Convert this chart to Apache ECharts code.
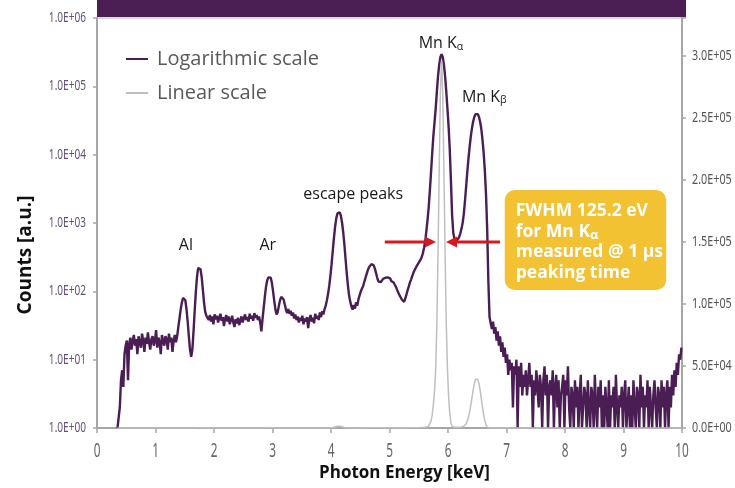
<!DOCTYPE html>
<html><head><meta charset="utf-8">
<script src="https://cdn.jsdelivr.net/npm/echarts/dist/echarts.min.js"></script>
<style>html,body{margin:0;padding:0;background:#fff}#c{width:735px;height:488px}</style>
</head><body><div id="c"></div>
<script>
// spectrum channels: energy of channel i = energyStart + i*energyStep (keV)
const energyStart = 0.35;
const energyStep = 0.02;
const counts = [
  1,1,2,5,7,4,12,16,19,5,
  17,21,14,19,23,16,20,12,22,18,
  15,24,19,13,21,17,25,18,14,20,
  22,16,19,27,15,21,18,12,23,19,
  16,22,20,14,24,18,21,13,19,23,
  18,22,30,40,54,68,80,85,74,55,
  36,22,14,11,14,26,52,100,165,220,
  235,210,160,105,68,50,44,47,38,45,
  36,43,33,46,39,44,35,41,47,37,
  42,31,40,45,36,43,33,38,44,35,
  30,39,34,41,32,37,43,35,40,46,
  38,42,36,47,40,44,37,48,41,45,
  38,43,35,26,40,58,85,118,145,160,
  165,158,132,100,72,54,46,50,62,75,
  83,84,76,64,54,48,55,47,52,44,
  49,40,46,38,43,35,41,37,44,33,
  40,36,42,29,39,45,36,41,34,47,
  40,44,38,49,42,51,46,55,62,74,
  92,120,170,250,390,600,880,1170,1380,1460,
  1430,1260,1000,720,470,290,180,120,86,70,
  60,54,63,56,69,62,77,88,100,110,
  120,138,158,180,205,225,240,250,252,240,
  215,185,158,140,132,136,145,152,148,158,
  152,160,150,155,142,148,135,125,116,105,
  96,88,82,76,72,70,78,90,104,118,
  135,150,168,188,205,222,238,255,272,290,
  315,360,430,540,760,1100,1700,3000,5500,10500,
  19000,30000,48000,85000,142000,208000,270000,296000,270000,208000,
  142000,85000,48000,26000,12000,4200,1300,720,590,555,
  555,575,620,700,820,1000,1350,2100,3400,5600,
  8800,13000,18500,24500,30500,35500,39200,40700,39200,35500,
  30000,23500,16500,10500,5800,2600,800,140,42,34,
  28,36,24,30,19,26,16,22,13,18,
  11,15,9,12,6,10,7,9,2,8,
  6,10,1,8,4,9,3,6,4,7,
  3,5,9,4,6,1,5,3,7,4,
  2,6,4,1,5,8,3,6,1,4,
  5,3,7,1,4,6,2,5,1,3,
  4,6,1,5,3,8,2,1,4,3,
  1,5,2,4,1,3,6,1,2,4,
  3,1,5,2,1,4,3,1,6,2,
  1,4,2,5,1,3,1,4,2,1,
  5,1,3,2,4,1,6,2,1,3,
  2,4,1,3,5,1,2,4,1,3,
  1,5,2,1,4,3,1,6,2,4,
  1,3,2,5,1,4,2,1,3,5,
  2,1,4,3,1,5,2,4,1,3,
  5,1,4,2,6,3,7,4,9,6,
  12,10,15
];
const seriesNames = ['Logarithmic scale', 'Linear scale'];
const xRange = [0, 10];
const logRange = [1, 1e6];
const linRange = [0, 330000];
const linInterval = 50000;
// tick labels
const xTicks = [0, 1, 2, 3, 4, 5, 6, 7, 8, 9, 10];
const logTicks = [1, 10, 100, 1000, 10000, 100000, 1000000];
const linTicks = [0, 50000, 100000, 150000, 200000, 250000, 300000];
// peak annotations: [label, energy keV, counts] (positions in data space of log axis)
const peakLabels = [
  ['{t|Al}', 1.52, 475],
  ['{t|Ar}', 2.92, 475],
  ['{t|escape peaks}', 4.38, 2650],
  ['{t|Mn K}{s|α}', 5.88, 420000],
  ['{t|Mn K}{s|β}', 6.62, 69500]
];
// FWHM arrows (energy from -> to, at counts level)
const fwhmArrows = [[4.92, 5.795, 525], [6.89, 5.966, 525]];
const noteBox = { e0: 6.97, e1: 9.73, c0: 3040, c1: 105 };
const noteLines = '{b|FWHM 125.2 eV}\n{b|for Mn K}{s|α}\n{b|measured @ 1 µs}\n{b|peaking time}';
const xTitle = 'Photon Energy [keV]';
const yTitle = 'Counts [a.u.]';

const PURPLE = '#4a1d54';
const GRAY = '#bfbfbf';
const AXIS = '#a6a6a6';
const SANS = '"Open Sans","Noto Sans",sans-serif';
const TICKFONT = '"Noto Sans","Roboto",sans-serif';

const spectrum = counts.map((c, i) => [+(energyStart + i * energyStep).toFixed(2), c]);

function sci(v) {
  const s = Number(v).toExponential(1).toUpperCase();
  return s.replace(/E([+-])(\d)$/, 'E$10$2');
}

const chart = echarts.init(document.getElementById('c'), null, { renderer: 'canvas' });
chart.setOption({
  animation: false,
  backgroundColor: '#fff',
  grid: { left: 97, right: 53, top: 18, bottom: 60, show: true, borderColor: '#b5b5b5', borderWidth: 1,
          containLabel: false, outerBoundsMode: 'none' },
  legend: {
    orient: 'vertical', left: 121, top: 44, itemGap: 14,
    icon: 'rect', itemWidth: 22, itemHeight: 2,
    textStyle: { fontFamily: SANS, fontSize: 20, color: '#595959', padding: [0, 0, 0, 4] },
    data: seriesNames
  },
  xAxis: {
    type: 'value', min: xRange[0], max: xRange[1], interval: 1,
    axisLine: { lineStyle: { color: AXIS, width: 2 } },
    axisTick: { show: true, length: 5, lineStyle: { color: AXIS, width: 1.5 } },
    axisLabel: { show: false },
    splitLine: { show: false }
  },
  yAxis: [{
    type: 'log', logBase: 10, min: logRange[0], max: logRange[1], position: 'left',
    axisLine: { show: true, lineStyle: { color: AXIS, width: 2 } },
    axisTick: { show: true, length: 4, lineStyle: { color: AXIS, width: 1.5 } },
    axisLabel: { show: false },
    splitLine: { show: false }
  }, {
    type: 'value', min: linRange[0], max: linRange[1], interval: linInterval, position: 'right',
    axisLine: { show: true, lineStyle: { color: AXIS, width: 2 } },
    axisTick: { show: true, length: 4, lineStyle: { color: AXIS, width: 1.5 } },
    axisLabel: { show: false },
    splitLine: { show: false }
  }],
  series: [{
    name: seriesNames[0], type: 'line', yAxisIndex: 0, data: spectrum,
    symbol: 'none', showSymbol: false, color: PURPLE,
    lineStyle: { color: PURPLE, width: 2.4 }, z: 2
  }, {
    name: seriesNames[1], type: 'line', yAxisIndex: 1, data: spectrum,
    symbol: 'none', showSymbol: false, color: GRAY,
    lineStyle: { color: GRAY, width: 1.5 }, z: 3
  }]
});

function px(e, c) { return chart.convertToPixel({ xAxisIndex: 0, yAxisIndex: 0 }, [e, c]); }
function pxLin(e, c) { return chart.convertToPixel({ xAxisIndex: 0, yAxisIndex: 1 }, [e, c]); }

const g = [];
const pL = px(xRange[0], logRange[1]);
const pR = px(xRange[1], logRange[1]);
const pB = px(xRange[0], logRange[0]);
// title banner above plot
g.push({ type: 'rect', shape: { x: pL[0], y: 0, width: pR[0] - pL[0] + 4, height: pL[1] - 1 }, style: { fill: '#4b1f53' }, z: 10 });

// tick labels (condensed look via horizontal scale)
logTicks.forEach(v => {
  const p = px(xRange[0], v);
  g.push({ type: 'text', x: p[0] - 11, y: p[1], scaleX: 0.72, z: 20,
    style: { text: sci(v), align: 'right', verticalAlign: 'middle', fontFamily: TICKFONT, fontSize: 14, fill: '#64507a' } });
});
linTicks.forEach(v => {
  const p = pxLin(xRange[1], v);
  g.push({ type: 'text', x: p[0] + 10, y: p[1], scaleX: 0.72, z: 20,
    style: { text: sci(v), align: 'left', verticalAlign: 'middle', fontFamily: TICKFONT, fontSize: 15, fill: '#555555' } });
});
xTicks.forEach(v => {
  const p = px(v, logRange[0]);
  g.push({ type: 'text', x: p[0], y: p[1] + 24, scaleX: 0.62, z: 20,
    style: { text: String(v), align: 'center', verticalAlign: 'middle', fontFamily: TICKFONT, fontSize: 19, fill: '#666666' } });
});

// axis titles
g.push({ type: 'text', x: (pL[0] + pR[0]) / 2 + 15, y: pB[1] + 45, z: 20,
  style: { text: xTitle, align: 'center', verticalAlign: 'middle', fontFamily: SANS, fontSize: 17, fontWeight: 'bold', fill: '#111' } });
g.push({ type: 'text', x: 26, y: (pL[1] + pB[1]) / 2 + 32, rotation: Math.PI / 2, z: 20,
  style: { text: yTitle, align: 'center', verticalAlign: 'middle', fontFamily: SANS, fontSize: 19, fontWeight: 'bold', fill: '#111' } });

peakLabels.forEach(([t, e, c]) => {
  const p = px(e, c);
  g.push({
    type: 'text', x: p[0], y: p[1], z: 20,
    style: {
      text: t, align: 'center', verticalAlign: 'middle',
      rich: {
        t: { fontFamily: SANS, fontSize: 16, fill: '#1a1a1a' },
        s: { fontFamily: SANS, fontSize: 10.5, fill: '#1a1a1a', verticalAlign: 'bottom', padding: [6, 0, 0, 0] }
      }
    }
  });
});

const RED = '#d7191f';
fwhmArrows.forEach(([e0, e1, c]) => {
  const a = px(e0, c), b = px(e1, c);
  const dir = b[0] > a[0] ? 1 : -1;
  const head = 11;
  g.push({ type: 'line', z: 20, shape: { x1: a[0], y1: a[1], x2: b[0] - dir * head, y2: b[1] }, style: { stroke: RED, lineWidth: 3 } });
  g.push({ type: 'polygon', z: 20, shape: { points: [[b[0], b[1]], [b[0] - dir * head, b[1] - 5.5], [b[0] - dir * head, b[1] + 5.5]] }, style: { fill: RED } });
});

const b0 = px(noteBox.e0, noteBox.c0), b1 = px(noteBox.e1, noteBox.c1);
g.push({ type: 'rect', z: 20, shape: { x: b0[0], y: b0[1], width: b1[0] - b0[0], height: b1[1] - b0[1], r: 10 }, style: { fill: '#f2c232' } });
g.push({
  type: 'text', z: 21, x: b0[0] + 11, y: b0[1] + 11,
  style: {
    text: noteLines, align: 'left', verticalAlign: 'top',
    rich: {
      b: { fontFamily: SANS, fontSize: 17.5, fontWeight: 'bold', fill: '#fff', lineHeight: 20.5 },
      s: { fontFamily: SANS, fontSize: 13, fontWeight: 'bold', fill: '#fff', lineHeight: 20.5, verticalAlign: 'bottom' }
    }
  }
});
chart.setOption({ graphic: g });
</script></body></html>
